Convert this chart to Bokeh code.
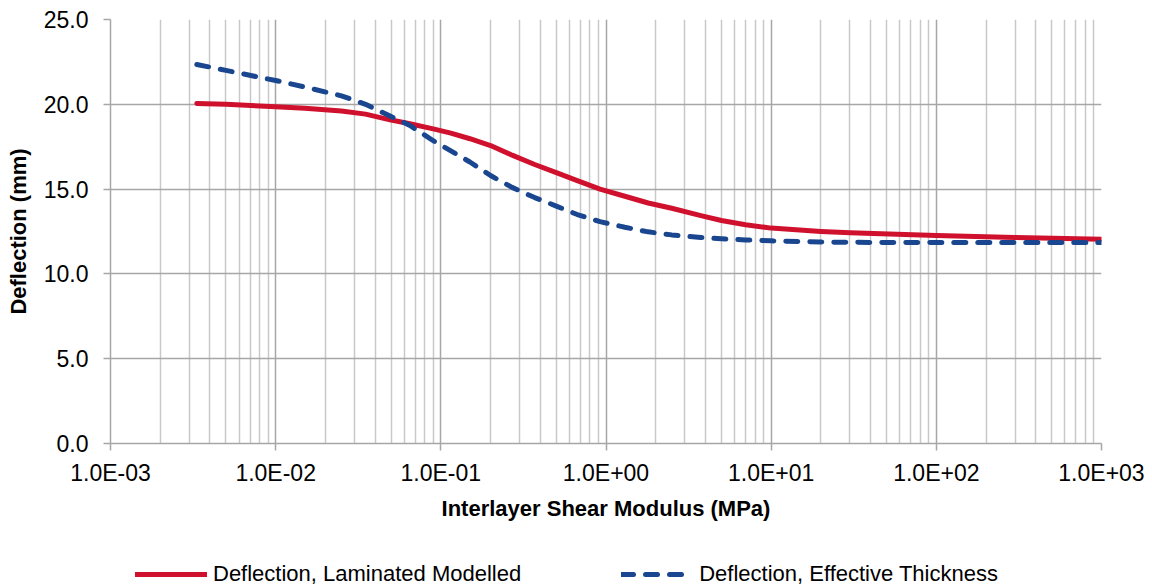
from bokeh.plotting import figure
from bokeh.layouts import column
from bokeh.models import (Range1d, FixedTicker, NumeralTickFormatter, CustomJSTickFormatter,
                          Legend, LegendItem)
from bokeh.embed import file_html
from bokeh.resources import INLINE

# ---- data ----
shear_modulus = [0.00333, 0.005, 0.01, 0.015, 0.025, 0.035, 0.05, 0.065, 0.09, 0.115, 0.15, 0.2,
                 0.27, 0.37, 0.5, 0.67, 0.92, 1.3, 1.8, 2.5, 3.75, 5, 7, 10, 20, 30, 100, 300, 1000]
deflection_laminated = [20.05, 20.00, 19.85, 19.76, 19.60, 19.42, 19.07, 18.85, 18.55, 18.30, 17.97,
                        17.57, 17.00, 16.45, 15.97, 15.50, 15.00, 14.58, 14.18, 13.87, 13.44, 13.15,
                        12.90, 12.70, 12.50, 12.42, 12.27, 12.15, 12.05]
deflection_effective = [22.35, 22.00, 21.40, 21.02, 20.50, 20.00, 19.28, 18.75, 17.85, 17.25, 16.60,
                        15.80, 15.10, 14.50, 14.00, 13.50, 13.08, 12.75, 12.48, 12.30, 12.15, 12.07,
                        12.00, 11.95, 11.88, 11.86, 11.85, 11.85, 11.85]
x_major_ticks = [1e-3, 1e-2, 1e-1, 1e0, 1e1, 1e2, 1e3]
y_ticks = [0, 5, 10, 15, 20, 25]
series_names = ["Deflection, Laminated Modelled", "Deflection, Effective Thickness"]

FONT = "Liberation Sans"
GRID = "#A6A6A6"
MINOR = "#C8C8C8"
RED = "#D0112E"
BLUE = "#1A4690"

p = figure(width=1152, height=530, x_axis_type="log", output_backend="svg",
           toolbar_location=None, x_range=Range1d(1e-3, 1e3), y_range=Range1d(0, 25),
           min_border_left=110, min_border_right=51, min_border_top=19, min_border_bottom=87)
p.outline_line_color = None
p.background_fill_color = "white"

minor = [m * d for d in x_major_ticks[:-1] for m in range(2, 10)]
p.xaxis.ticker = FixedTicker(ticks=x_major_ticks, minor_ticks=minor)
p.yaxis.ticker = FixedTicker(ticks=y_ticks)
p.xaxis.formatter = CustomJSTickFormatter(code="""
    const s = tick.toExponential(1).toUpperCase();
    const parts = s.split('E');
    let e = parts[1];
    const sign = e[0] === '-' ? '-' : '+';
    e = e.replace(/[+-]/, '');
    if (e.length < 2) e = '0' + e;
    return parts[0] + 'E' + sign + e;
""")
p.yaxis.formatter = NumeralTickFormatter(format="0.0")

for ax in (p.xaxis, p.yaxis):
    ax.axis_line_color = GRID
    ax.axis_line_width = 1.5
    ax.major_tick_line_color = GRID
    ax.major_tick_line_width = 1.5
    ax.major_tick_in = 0
    ax.major_tick_out = 7
    ax.minor_tick_line_color = None
    ax.major_label_text_font = FONT
    ax.major_label_text_font_size = "23px"
    ax.major_label_text_color = "black"
    ax.axis_label_text_font = FONT
    ax.axis_label_text_font_style = "bold"
    ax.axis_label_text_font_size = "22px"
    ax.axis_label_text_color = "black"

p.xaxis.axis_label = "Interlayer Shear Modulus (MPa)"
p.yaxis.axis_label = "Deflection (mm)"
p.xaxis.major_label_standoff = 9
p.xaxis.axis_label_standoff = 7
p.yaxis.major_label_standoff = 15
p.yaxis.axis_label_standoff = 10

p.xgrid.grid_line_color = GRID
p.xgrid.grid_line_width = 1.5
p.xgrid.minor_grid_line_color = MINOR
p.xgrid.minor_grid_line_width = 1.5
p.ygrid.grid_line_color = GRID
p.ygrid.grid_line_width = 1.5

p.line(shear_modulus, deflection_laminated, line_color=RED, line_width=5,
       line_cap="round", line_join="round")
p.line(shear_modulus, deflection_effective, line_color=BLUE, line_width=5,
       line_dash="12 12", line_cap="round", line_join="round")

# ---- legend strip below the chart (its line renderers lie outside its view) ----
lg = figure(width=1152, height=58, output_backend="svg", toolbar_location=None,
            x_range=Range1d(0, 1), y_range=Range1d(-2, -1),
            min_border_left=0, min_border_right=0, min_border_top=0, min_border_bottom=0)
lg.axis.visible = False
lg.grid.visible = False
lg.outline_line_color = None
k1 = lg.line(shear_modulus, deflection_laminated, line_color=RED, line_width=5, line_cap="round")
k2 = lg.line(shear_modulus, deflection_effective, line_color=BLUE, line_width=5,
             line_dash="12 12", line_cap="round")
legend = Legend(items=[LegendItem(label=series_names[0], renderers=[k1]),
                       LegendItem(label=series_names[1], renderers=[k2])],
                orientation="horizontal", location=(25, 1),
                label_text_font=FONT,
                label_text_font_size="22px", label_text_color="black",
                glyph_width=72, glyph_height=20, label_standoff=6, spacing=100,
                border_line_color=None, background_fill_alpha=0, margin=0, padding=4)
lg.add_layout(legend)

open("out.html", "w").write(file_html(column(p, lg, spacing=0), INLINE))
